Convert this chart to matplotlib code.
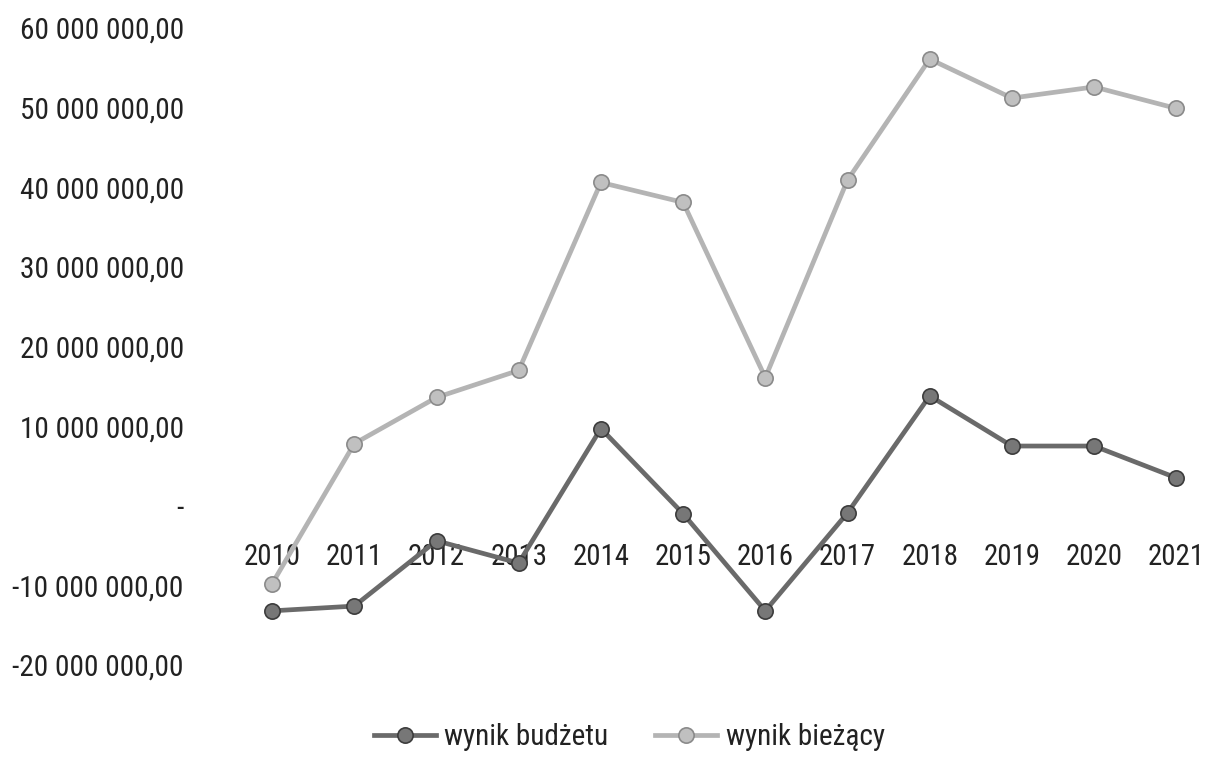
import matplotlib
matplotlib.use("Agg")
import matplotlib.pyplot as plt
from matplotlib import font_manager
from matplotlib.font_manager import FontProperties
from matplotlib.textpath import TextPath
from matplotlib.ticker import FuncFormatter

years = ["2010", "2011", "2012", "2013", "2014", "2015", "2016", "2017", "2018", "2019", "2020", "2021"]
wynik_budzetu = [-13.2e6, -12.6e6, -4.4e6, -7.2e6, 9.7e6, -1.0e6, -13.2e6, -0.9e6, 13.8e6, 7.5e6, 7.5e6, 3.5e6]
wynik_biezacy = [-9.8e6, 7.8e6, 13.6e6, 17.0e6, 40.6e6, 38.1e6, 16.1e6, 40.9e6, 56.1e6, 51.2e6, 52.6e6, 49.9e6]
series_names = ["wynik budżetu", "wynik bieżący"]
y_ticks = [-20e6, -10e6, 0, 10e6, 20e6, 30e6, 40e6, 50e6, 60e6]

# choose a narrow sans font
prefs = ["Liberation Sans Narrow", "Arial Narrow", "Roboto Condensed", "Archivo Narrow",
         "PT Sans Narrow", "IBM Plex Sans Condensed", "Open Sans Condensed", "Carlito"]
fname = None
for p in prefs:
    cands = [f for f in font_manager.fontManager.ttflist
             if f.name == p and f.style == "normal"]
    if cands:
        cands.sort(key=lambda f: abs((f.weight if isinstance(f.weight, int) else 400) - 400))
        fname = cands[0].fname
        break

def fp(size):
    if fname:
        return FontProperties(fname=fname, size=size)
    return FontProperties(family="DejaVu Sans", size=size)

def size_for(text, target_px):
    w = TextPath((0, 0), text, size=20, prop=fp(20)).get_extents().width * 100 / 72
    return 20 * target_px / w

ysize = size_for("60 000 000,00", 161)
xsize = size_for("2010", 54)
lsize = size_for("wynik budżetu", 162)

W, H = 1208, 766
fig = plt.figure(figsize=(W / 100, H / 100), dpi=100)
left_px, right_px, top_px, bot_px = 231, 1208, 28, 665
ax = fig.add_axes([left_px / W, 1 - bot_px / H, (right_px - left_px) / W, (bot_px - top_px) / H])

x = list(range(len(years)))
ax.plot(x, wynik_budzetu, color="#6a6a6a", lw=3.4, marker="o", ms=11,
        mfc="#777777", mec="#3c3c3c", mew=1.2, label=series_names[0], zorder=3)
ax.plot(x, wynik_biezacy, color="#b4b4b4", lw=3.4, marker="o", ms=11,
        mfc="#c0c0c0", mec="#8a8a8a", mew=1.2, label=series_names[1], zorder=2)

ax.set_xlim(-0.5, -0.5 + (right_px - left_px) / 82.2)
ax.set_ylim(-20e6, 60e6)

for s in ["top", "right", "left"]:
    ax.spines[s].set_visible(False)
ax.spines["bottom"].set_position(("data", 0))
ax.spines["bottom"].set_visible(False)

ax.set_xticks(x)
ax.set_xticklabels(years, fontproperties=fp(xsize), color="#222222")
ax.tick_params(axis="x", length=0, pad=27)

def fmt(v, pos):
    if abs(v) < 1:
        return "-"
    s = f"{abs(v):,.2f}".replace(",", " ").replace(".", ",")
    return ("-" if v < 0 else "") + s

ax.set_yticks(y_ticks)
ax.set_yticklabels([fmt(v, None) for v in y_ticks], fontproperties=fp(ysize), color="#222222")
ax.tick_params(axis="y", length=0, pad=34)

leg = fig.legend(loc="center", bbox_to_anchor=(0.521, 0.038), ncol=2, frameon=False,
                 prop=fp(lsize), handlelength=2.1, columnspacing=1.6, handletextpad=0.3,
                 labelcolor="#222222")

fig.savefig("out.png", dpi=100, facecolor="white")
